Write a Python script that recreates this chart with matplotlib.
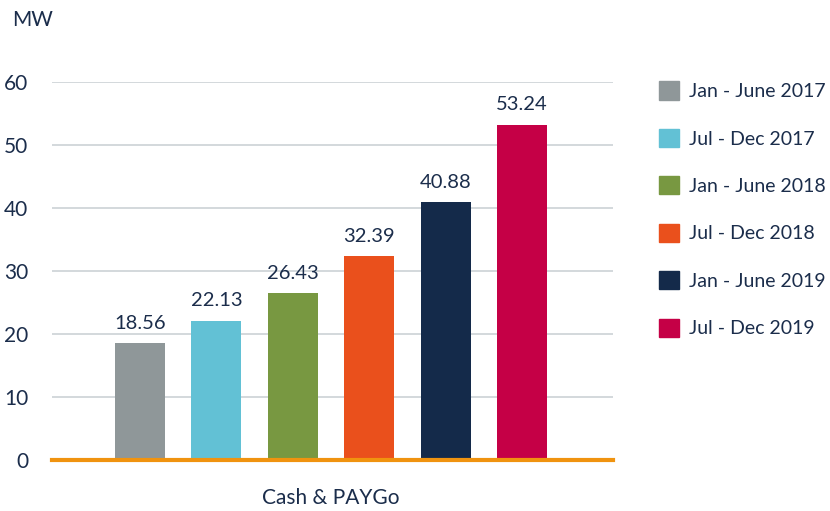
import matplotlib.pyplot as plt
from matplotlib.patches import Patch

# data
periods = ['Jan - June 2017', 'Jul - Dec 2017', 'Jan - June 2018',
           'Jul - Dec 2018', 'Jan - June 2019', 'Jul - Dec 2019']
values = [18.56, 22.13, 26.43, 32.39, 40.88, 53.24]
colors = ['#8f9799', '#62c1d5', '#789841', '#ea501c', '#142a4a', '#c50046']
category = 'Cash & PAYGo'
yticks = [0, 10, 20, 30, 40, 50, 60]

text_color = '#1b2d4b'
plt.rcParams['font.family'] = ['Lato', 'DejaVu Sans']

fig = plt.figure(figsize=(8.3, 5.11), dpi=100)
ax = fig.add_axes([52 / 830, 51 / 511, 561 / 830, 378 / 511])

x = range(len(values))
bars = ax.bar(x, values, width=0.655, color=colors, zorder=3)
ax.bar_label(bars, labels=[f'{v:.2f}' for v in values], padding=8,
             fontsize=14.5, color=text_color)

ax.set_ylim(0, 60)
ax.set_xlim(-1.15, 6.19)
ax.set_yticks(yticks)
ax.set_yticklabels([str(t) for t in yticks], fontsize=15, color=text_color)
ax.grid(axis='y', color='#d3d8dc', linewidth=1.4, zorder=0)
ax.axhline(0, color='#f0930f', linewidth=3, zorder=4, clip_on=False)

ax.set_xticks([2.5])
ax.set_xticklabels([category], fontsize=15, color=text_color)
ax.tick_params(axis='x', length=0, pad=20)
ax.tick_params(axis='y', length=0, pad=17)
for s in ax.spines.values():
    s.set_visible(False)

fig.text(12 / 830, 1 - 20 / 511, 'MW', fontsize=15, color=text_color,
         va='center', ha='left')

handles = [Patch(color=c, label=p) for c, p in zip(colors, periods)]
leg = fig.legend(handles=handles, loc='upper left',
                 bbox_to_anchor=(641 / 830, 1 - 64 / 511),
                 frameon=False, fontsize=14, handlelength=1.05,
                 handleheight=1.05, handletextpad=0.5, labelspacing=1.48)
for t in leg.get_texts():
    t.set_color(text_color)

fig.savefig('out.png', dpi=100)
